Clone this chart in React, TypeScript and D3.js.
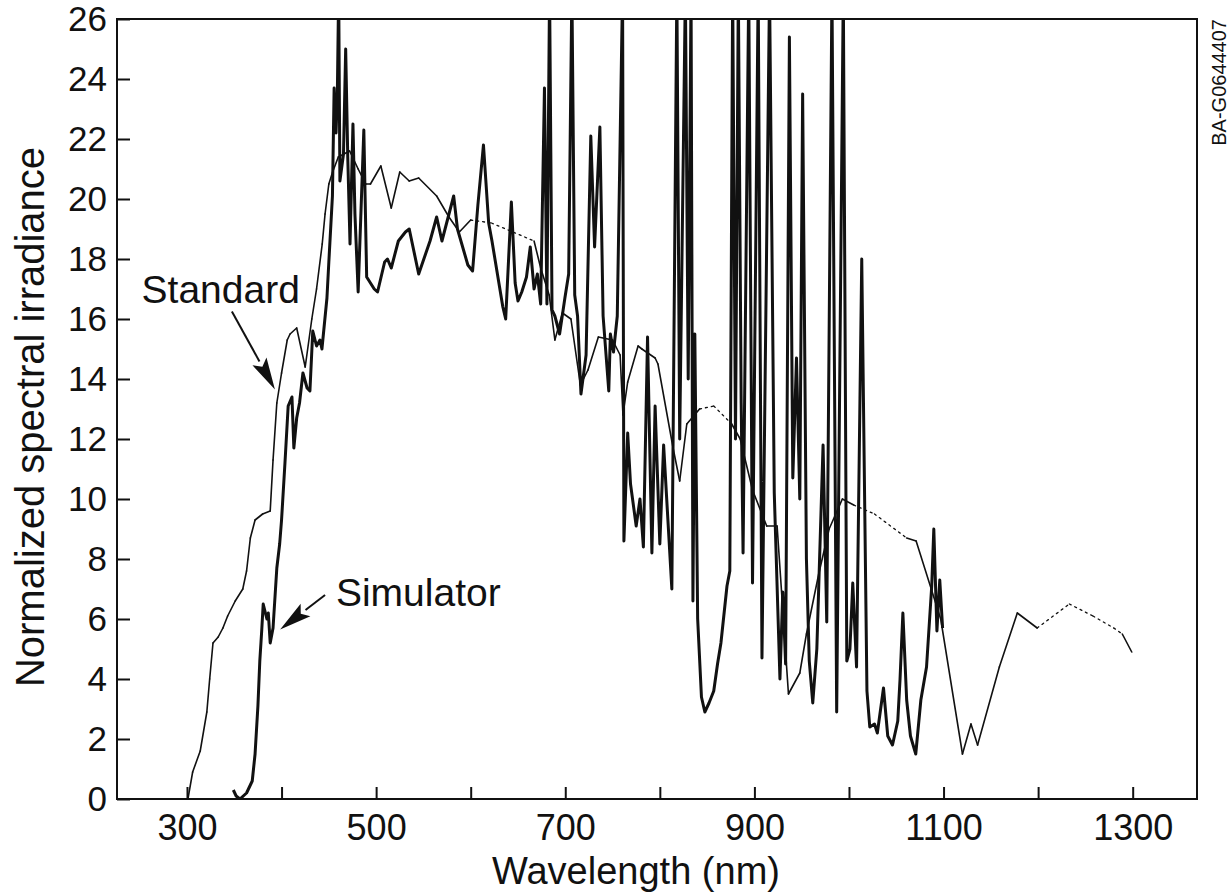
import React, { useEffect, useRef } from 'react';
import * as d3 from 'd3';

// ---- Data (wavelength in nm, normalized spectral irradiance) ----
const standardWl = [
  301, 306, 314, 321, 324, 327.5, 333, 338, 343, 351, 359, 363, 367, 372, 380, 388, 391, 395, 400, 406,
  409, 416, 425, 432, 437, 443, 446, 450, 454, 460, 472, 481, 489, 494, 505, 516, 525, 535, 545, 564,
  577, 588, 600, 622, 667, 674, 683, 689, 697, 706, 716, 724, 735, 750, 758, 761, 766, 777, 781, 795,
  798, 814, 821, 828.5, 842, 857, 876, 885, 898, 913, 924, 936, 948, 955, 968, 979, 993, 1005, 1027, 1061,
  1071, 1088, 1097, 1120, 1129, 1136, 1159, 1178, 1199, 1233, 1258, 1280, 1289, 1299,
];
const standardVal = [
  0, 0.9, 1.6, 2.9, 4.0, 5.2, 5.4, 5.7, 6.1, 6.6, 7.0, 7.6, 8.7, 9.3, 9.5, 9.6, 11.3, 13.2, 14.2, 15.3,
  15.5, 15.7, 14.4, 16.0, 17.0, 18.5, 19.5, 20.5, 20.9, 21.4, 21.6, 21.0, 20.5, 20.5, 21.1, 19.7, 20.9, 20.6, 20.7, 20.1,
  19.4, 18.9, 19.3, 19.2, 18.6, 17.7, 16.8, 15.3, 16.2, 16.0, 13.8, 14.3, 15.4, 15.3, 14.8, 12.8, 13.9, 15.1, 15.0, 14.7,
  14.5, 11.7, 10.6, 12.5, 13.0, 13.1, 12.5, 12.0, 10.3, 9.1, 9.1, 3.5, 4.2, 5.5, 7.5, 9.0, 10.0, 9.8, 9.5, 8.7,
  8.6, 6.9, 6.0, 1.5, 2.5, 1.8, 4.4, 6.2, 5.7, 6.5, 6.1, 5.7, 5.5, 4.9,
];
// wavelength ranges where the printed standard curve is faint / dotted
const standardDashed: [number, number][] = [[605, 668], [840, 880], [1010, 1065], [1205, 1285]];

const simulatorWl = [
  349, 352, 356, 363, 369, 372, 375, 377, 379, 380.6, 384.5, 386, 388, 391, 395, 398, 400, 403.6, 407, 411,
  413, 416, 419, 422.6, 427, 430, 433, 437, 440.6, 442.7, 448, 450, 453.8, 455.6, 457.6, 459, 460.4, 461.7, 465.5, 467.8,
  470, 472.4, 475.5, 477.6, 481, 487, 490, 498, 501.5, 509, 512, 516, 523.5, 531, 535, 545, 557, 564, 569.6, 582,
  586, 597, 602, 607.6, 613.5, 619, 622.5, 634, 637, 643, 647, 650, 654, 659, 663, 667, 670.5, 674, 678, 680.6,
  683.4, 686, 689, 694, 699.6, 703.6, 707, 710, 713, 716.6, 722, 727, 731, 736.6, 740, 746, 747.7, 751, 755, 760.6,
  762, 766, 769, 775, 779, 782.6, 787, 791.6, 795, 799, 800, 804, 812.7, 818, 821, 827, 830, 833, 835, 837,
  840, 844, 847.6, 852, 857, 861, 864.6, 871, 874, 877, 880, 883, 886, 888, 894, 898, 904, 908, 916, 921,
  927, 930, 933, 937, 940.6, 944.5, 948, 951, 955, 958, 961.7, 966, 972.6, 976.5, 982, 987, 994, 997.7, 1001, 1004,
  1008, 1013.5, 1019, 1022, 1027, 1030, 1036.5, 1041, 1046, 1051.6, 1054, 1057, 1061, 1065, 1070.6, 1076, 1082, 1087.5, 1089.7, 1093,
  1096, 1099,
];
const simulatorVal = [
  0.3, 0.1, 0, 0.2, 0.6, 1.5, 3.1, 4.6, 5.6, 6.5, 6.0, 6.2, 5.2, 5.7, 7.7, 8.5, 9.3, 11.2, 13.1, 13.4,
  11.7, 12.7, 13.2, 14.2, 13.7, 13.6, 15.6, 15.1, 15.3, 15.0, 16.7, 17.9, 20.1, 23.7, 22.2, 23.5, 27, 20.6, 21.5, 25.0,
  21.4, 18.5, 22.5, 19.5, 16.9, 22.3, 17.4, 17.0, 16.9, 17.9, 18.0, 17.7, 18.6, 18.9, 19.0, 17.5, 18.6, 19.4, 18.6, 20.1,
  19.0, 17.8, 17.6, 19.8, 21.8, 19.2, 18.6, 16.4, 16.0, 19.9, 17.2, 16.6, 16.9, 17.4, 18.4, 17.0, 17.5, 16.5, 23.7, 16.5,
  27, 16.3, 16.1, 15.5, 16.7, 17.5, 27, 16.8, 16.1, 13.5, 14.8, 22.1, 18.4, 22.4, 16.1, 13.6, 15.5, 14.9, 16.1, 27,
  8.6, 12.2, 10.5, 9.1, 10.0, 8.4, 15.4, 8.2, 13.1, 9.4, 8.5, 11.8, 7.0, 27, 12, 27, 14, 27, 6.6, 15.5,
  6.0, 3.4, 2.9, 3.2, 3.6, 4.5, 5.2, 7.1, 7.6, 27, 12, 27, 13.2, 8.2, 27, 7.2, 27, 4.7, 27, 10.2,
  4.0, 6.9, 4.5, 25.4, 10.7, 14.7, 10.0, 23.5, 8.0, 4.6, 3.2, 5.0, 11.8, 5.9, 27, 2.9, 27, 4.6, 5.0, 7.2,
  4.4, 18.0, 3.6, 2.4, 2.5, 2.2, 3.7, 2.1, 1.8, 2.6, 4.0, 6.2, 3.3, 2.1, 1.5, 3.3, 4.4, 7.1, 9.0, 5.6,
  7.3, 5.7,
];

const xTicks = [300, 400, 500, 600, 700, 800, 900, 1000, 1100, 1200, 1300];
const xTickLabels = [300, 500, 700, 900, 1100, 1300];
const yTicks = [0, 2, 4, 6, 8, 10, 12, 14, 16, 18, 20, 22, 24, 26];

const xDomain: [number, number] = [226, 1368];
const yDomain: [number, number] = [0, 26];

// annotations in data coordinates: [wavelength, value]
const standardLabelAt: [number, number] = [252, 16.55];
const standardArrow: [[number, number], [number, number]] = [[347.5, 16.25], [393, 13.65]];
const simulatorLabelAt: [number, number] = [457.5, 6.45];
const simulatorArrow: [[number, number], [number, number]] = [[446, 6.8], [398.5, 5.65]];

const W = 1230;
const H = 893;
const FONT = "'Liberation Sans', Arial, Helvetica, sans-serif";
const INK = '#111';

export default function App() {
  const ref = useRef<SVGSVGElement>(null);

  useEffect(() => {
    const svg = d3.select(ref.current);
    svg.selectAll('*').remove();

    const x = d3.scaleLinear().domain(xDomain).range([117, 1197]);
    const y = d3.scaleLinear().domain(yDomain).range([799, 19]);

    svg.append('rect').attr('width', W).attr('height', H).attr('fill', '#fff');

    svg.append('defs').append('clipPath').attr('id', 'plotclip')
      .append('rect')
      .attr('x', x(xDomain[0])).attr('y', y(yDomain[1]))
      .attr('width', x(xDomain[1]) - x(xDomain[0]))
      .attr('height', y(yDomain[0]) - y(yDomain[1]));

    const plot = svg.append('g').attr('clip-path', 'url(#plotclip)');

    // Standard curve (thin), with faint dotted stretches
    const std = standardWl.map((w, i) => ({ w, v: standardVal[i] }));
    const inDash = (w: number) => standardDashed.some(([a, b]) => w >= a && w <= b);
    const lineStd = d3.line<{ w: number; v: number }>().x(d => x(d.w)).y(d => y(d.v));
    for (let i = 0; i < std.length - 1; i++) {
      const a = std[i], b = std[i + 1];
      const dashed = inDash((a.w + b.w) / 2);
      plot.append('path')
        .attr('d', lineStd([a, b]) as string)
        .attr('fill', 'none')
        .attr('stroke', INK)
        .attr('stroke-width', dashed ? 1.3 : 1.6)
        .attr('stroke-dasharray', dashed ? '2,4' : null)
        .attr('stroke-linecap', 'round');
    }

    // Simulator curve (thick)
    const sim = simulatorWl.map((w, i) => ({ w, v: simulatorVal[i] }));
    const lineSim = d3.line<{ w: number; v: number }>().x(d => x(d.w)).y(d => y(d.v));
    plot.append('path')
      .attr('d', lineSim(sim) as string)
      .attr('fill', 'none')
      .attr('stroke', INK)
      .attr('stroke-width', 3)
      .attr('stroke-linejoin', 'round');

    // Frame
    svg.append('rect')
      .attr('x', x(xDomain[0])).attr('y', y(yDomain[1]))
      .attr('width', x(xDomain[1]) - x(xDomain[0]))
      .attr('height', y(yDomain[0]) - y(yDomain[1]))
      .attr('fill', 'none').attr('stroke', INK).attr('stroke-width', 2);

    // Y axis
    const yAxis = d3.axisLeft(y).tickValues(yTicks).tickSize(-13).tickPadding(10).tickFormat(d3.format('d'));
    const gy = svg.append('g').attr('transform', `translate(${x(xDomain[0])},0)`).call(yAxis);
    gy.select('.domain').remove();
    gy.selectAll('line').attr('stroke', INK).attr('stroke-width', 2);
    gy.selectAll('text').attr('font-family', FONT).attr('font-size', 35).attr('fill', INK);

    // X axis
    const xAxis = d3.axisBottom(x).tickValues(xTicks).tickSize(-12).tickPadding(15)
      .tickFormat(d => (xTickLabels.includes(+d) ? String(d) : ''));
    const gx = svg.append('g').attr('transform', `translate(0,${y(0)})`).call(xAxis);
    gx.select('.domain').remove();
    gx.selectAll('line').attr('stroke', INK).attr('stroke-width', 2);
    gx.selectAll('text').attr('font-family', FONT).attr('font-size', 36).attr('fill', INK);

    // Axis titles
    svg.append('text')
      .attr('x', 636).attr('y', 884)
      .attr('text-anchor', 'middle')
      .attr('font-family', FONT).attr('font-size', 38).attr('fill', INK)
      .text('Wavelength (nm)');

    svg.append('text')
      .attr('transform', `translate(44,${417}) rotate(-90)`)
      .attr('text-anchor', 'middle')
      .attr('font-family', FONT).attr('font-size', 40).attr('fill', INK)
      .text('Normalized spectral irradiance');

    svg.append('text')
      .attr('transform', `translate(1226,${19}) rotate(-90)`)
      .attr('text-anchor', 'end')
      .attr('font-family', FONT).attr('font-size', 20).attr('fill', INK)
      .text('BA-G0644407');

    // Annotations
    const arrow = (p0: [number, number], p1: [number, number]) => {
      const x0 = x(p0[0]), y0 = y(p0[1]), x1 = x(p1[0]), y1 = y(p1[1]);
      const dx = x1 - x0, dy = y1 - y0;
      const len = Math.hypot(dx, dy);
      const ux = dx / len, uy = dy / len;
      const hl = 32, hw = 8;
      const bx = x1 - ux * hl, by = y1 - uy * hl;
      svg.append('line')
        .attr('x1', x0).attr('y1', y0).attr('x2', bx).attr('y2', by)
        .attr('stroke', INK).attr('stroke-width', 2);
      svg.append('path')
        .attr('d', `M${x1},${y1} L${bx - uy * hw},${by + ux * hw} L${bx + ux * 6},${by + uy * 6} L${bx + uy * hw},${by - ux * hw} Z`)
        .attr('fill', INK);
    };

    svg.append('text')
      .attr('x', x(standardLabelAt[0])).attr('y', y(standardLabelAt[1]))
      .attr('font-family', FONT).attr('font-size', 39).attr('fill', INK)
      .text('Standard');
    arrow(standardArrow[0], standardArrow[1]);

    svg.append('text')
      .attr('x', x(simulatorLabelAt[0])).attr('y', y(simulatorLabelAt[1]))
      .attr('font-family', FONT).attr('font-size', 39).attr('fill', INK)
      .text('Simulator');
    arrow(simulatorArrow[0], simulatorArrow[1]);
  }, []);

  return (
    <svg
      ref={ref}
      width={W}
      height={H}
      style={{ position: 'absolute', left: 0, top: 0, display: 'block' }}
    />
  );
}
